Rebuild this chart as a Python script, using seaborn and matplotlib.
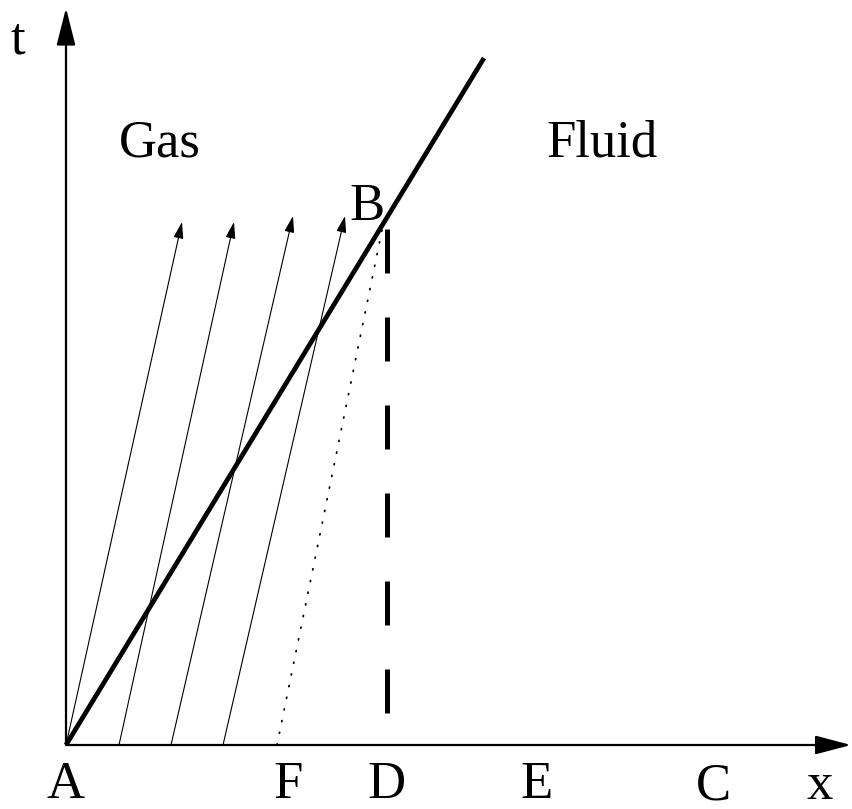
import matplotlib
matplotlib.use("Agg")
import matplotlib.pyplot as plt
import seaborn as sns

# data coordinates: A is the origin, x to the right, t upwards
front_x = [0, 418]          # thick line (gas/fluid front)
front_t = [0, 687]
dotted_x = [211, 316]        # from F up to B
dotted_t = [0, 515]
dashed_x = [321, 321]        # vertical dashed line above D
dashed_t = [32, 517]
char_start_x = [0, 53, 105, 157]      # thin characteristic arrows
char_tip_x = [116, 168, 227, 279]
char_tip_t = [523, 523, 529, 529]

axis_labels = ["A", "F", "D", "E", "C"]
axis_label_x = [0, 222, 321, 471, 647]
axis_label_t = [-40, -40, -40, -40, -41]

sns.set_style("white")
plt.rcParams["font.family"] = ["Liberation Serif", "DejaVu Serif"]

fig = plt.figure(figsize=(8.53, 8.09), dpi=100)
ax = fig.add_axes([0, 0, 1, 1])
ax.set_xlim(-66, 787)
ax.set_ylim(-64, 745)
ax.axis("off")

# coordinate axes with arrow heads
ax.annotate("", xy=(0, 737), xytext=(0, 0),
            arrowprops=dict(arrowstyle="-|>,head_length=2.3,head_width=0.58",
                            mutation_scale=10, lw=1.6, color="black",
                            shrinkA=0, shrinkB=0))
ax.annotate("", xy=(785, 0), xytext=(0, 0),
            arrowprops=dict(arrowstyle="-|>,head_length=2.2,head_width=0.58",
                            mutation_scale=10, lw=1.6, color="black",
                            shrinkA=0, shrinkB=0))

# thin characteristics
for sx, tx, tt in zip(char_start_x, char_tip_x, char_tip_t):
    ax.annotate("", xy=(tx, tt), xytext=(sx, 0),
                arrowprops=dict(arrowstyle="-|>,head_length=1.0,head_width=0.3",
                                mutation_scale=10, lw=0.8, color="black",
                                shrinkA=0, shrinkB=0))

# front, dotted and dashed lines
sns.lineplot(x=front_x, y=front_t, ax=ax, color="black", lw=3.4,
             estimator=None, sort=False, solid_capstyle="butt")
sns.lineplot(x=dotted_x, y=dotted_t, ax=ax, color="black", lw=1.3,
             estimator=None, sort=False,
             linestyle=(0, (0.6, 6.0)), dash_capstyle="round")
sns.lineplot(x=dashed_x, y=dashed_t, ax=ax, color="black", lw=3.6,
             estimator=None, sort=False,
             linestyle=(0, (8.8, 8.8)), dash_capstyle="butt")

# labels
for lab, lx, lt in zip(axis_labels, axis_label_x, axis_label_t):
    ax.text(lx, lt, lab, fontsize=38, ha="center", va="center", color="black")
ax.text(754, -41, "x", fontsize=38, ha="center", va="center", color="black")
ax.text(-48, 705, "t", fontsize=38, ha="center", va="center", color="black")
ax.text(94, 602, "Gas", fontsize=38, ha="center", va="center", color="black")
ax.text(536, 602, "Fluid", fontsize=38, ha="center", va="center", color="black")
ax.text(301, 538, "B", fontsize=38, ha="center", va="center", color="black")

fig.savefig("out.png", dpi=100)
